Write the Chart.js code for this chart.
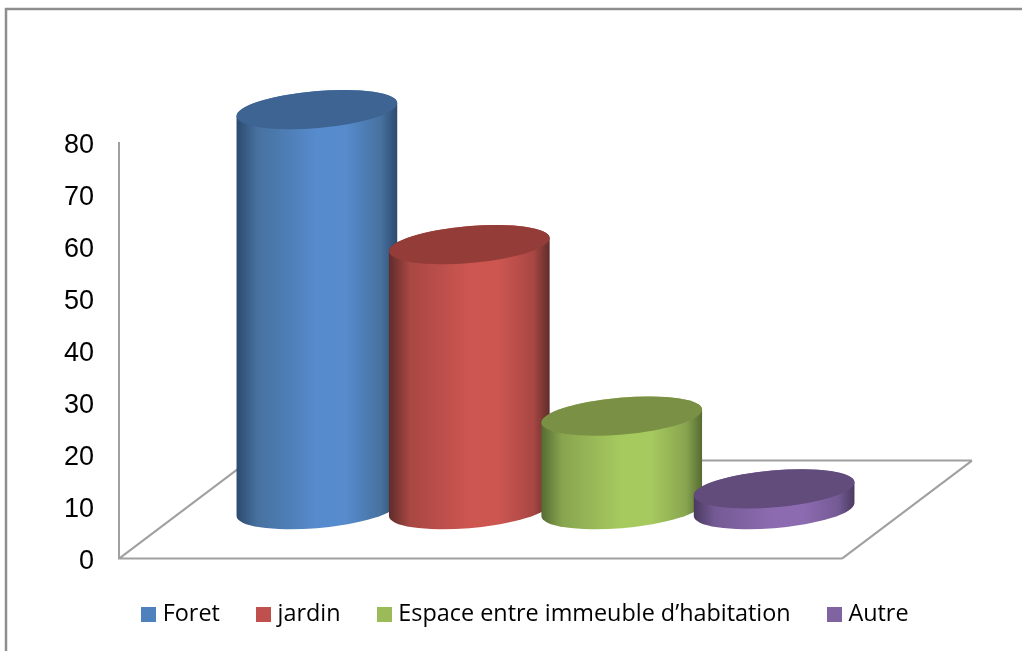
<!DOCTYPE html>
<html>
<head>
<meta charset="utf-8">
<title>Chart</title>
<script src="https://cdn.jsdelivr.net/npm/chart.js@4"></script>
<style>
  html, body { margin: 0; padding: 0; background: #fff; overflow: hidden; }
  canvas { display: block; }
</style>
</head>
<body>
<canvas id="chart" width="1022" height="651"></canvas>
<script>
// Data
const categories = ["Foret", "jardin", "Espace entre immeuble d\u2019habitation", "Autre"];
const values = [77, 51, 18, 4];
const yMin = 0;
const yMax = 80;
const yStep = 10;

// Colours of each cylinder
const legendColors = ["#4F81BD", "#C0504D", "#9BBB59", "#8064A2"];
const topColors = ["#3D6493", "#943C38", "#7A9145", "#614C7C"];
const darkColors = ["#2C4A6E", "#5F2C2A", "#566B33", "#4A3A5F"];
const midColors = ["#47719F", "#A84743", "#88A54F", "#745A95"];
const peakColors = ["#568BCD", "#CD5651", "#A7CA5F", "#8D6BB0"];

const lineColor = "#A0A0A0";

// Look of the 3D floor and cylinders
const floorDepthX = 130;
const floorDepthY = 98;
const barLift = 49;        // cylinders stand in the middle of the floor
const radiusRatio = 0.529; // cylinder radius compared to the bar slot
const ellipseB = 18.5;
const tilt = -4.9 * Math.PI / 180;

// Legend square, as an image so it sits close to the text like the original
function legendSquare(color) {
  let c = document.createElement("canvas");
  c.width = 15;
  c.height = 15;
  let g = c.getContext("2d");
  g.fillStyle = color;
  g.fillRect(0, 0, 15, 15);
  return c;
}

function drawFloor(chart) {
  let ctx = chart.ctx;
  let area = chart.chartArea;
  let frontRight = area.right - floorDepthX;
  let backLeft = area.left + floorDepthX;
  let backY = area.bottom - floorDepthY;

  ctx.save();
  ctx.strokeStyle = lineColor;
  ctx.lineWidth = 2;
  ctx.beginPath();
  ctx.moveTo(area.left - 1, area.bottom);
  ctx.lineTo(frontRight, area.bottom);
  ctx.moveTo(backLeft, backY);
  ctx.lineTo(area.right, backY);
  ctx.moveTo(area.left, area.bottom);
  ctx.lineTo(backLeft, backY);
  ctx.moveTo(frontRight, area.bottom);
  ctx.lineTo(area.right, backY);
  ctx.stroke();
  ctx.restore();
}

function drawCylinder(ctx, bar, i) {
  let a = bar.width * radiusRatio;
  let b = ellipseB;
  let cx = bar.x;
  let topY = bar.y - barLift;
  let baseY = bar.base - barLift;
  // angle of the left and right extreme points of the tilted ellipse
  let t0 = Math.atan(-(b / a) * Math.tan(tilt));
  let extent = Math.sqrt(a * a * Math.cos(tilt) ** 2 + b * b * Math.sin(tilt) ** 2);

  let grad = ctx.createLinearGradient(cx - extent, 0, cx + extent, 0);
  grad.addColorStop(0, darkColors[i]);
  grad.addColorStop(0.13, midColors[i]);
  grad.addColorStop(0.5, peakColors[i]);
  grad.addColorStop(0.68, peakColors[i]);
  grad.addColorStop(0.9, midColors[i]);
  grad.addColorStop(1, darkColors[i]);

  ctx.beginPath();
  ctx.ellipse(cx, baseY, a, b, tilt, t0, t0 + Math.PI);
  ctx.ellipse(cx, topY, a, b, tilt, t0 + Math.PI, t0 + 2 * Math.PI);
  ctx.closePath();
  ctx.fillStyle = grad;
  ctx.fill();

  ctx.beginPath();
  ctx.ellipse(cx, topY, a, b, tilt, 0, 2 * Math.PI);
  ctx.fillStyle = topColors[i];
  ctx.fill();
}

// Frame around the picture, cut by the right and bottom edges
const framePlugin = {
  id: "frame",
  beforeDraw(chart) {
    let ctx = chart.ctx;
    ctx.save();
    ctx.fillStyle = "#fff";
    ctx.fillRect(0, 0, chart.width, chart.height);
    ctx.strokeStyle = "#8E8E8E";
    ctx.lineWidth = 2.5;
    ctx.beginPath();
    ctx.moveTo(6, chart.height + 2);
    ctx.lineTo(6, 9);
    ctx.lineTo(chart.width + 2, 9);
    ctx.stroke();
    ctx.restore();
  }
};

// Replace the flat bars by cylinders, using the geometry of the bar elements
const cylinderPlugin = {
  id: "cylinders",
  afterLayout(chart) {
    // legend is not centred under the plot in the original
    chart.legend.left = 105;
    chart.legend.top = 562;
  },
  beforeDatasetsDraw(chart) {
    drawFloor(chart);
    chart.data.datasets.forEach((ds, i) => {
      drawCylinder(chart.ctx, chart.getDatasetMeta(i).data[0], i);
    });
    return false;
  }
};

new Chart(document.getElementById("chart"), {
  type: "bar",
  data: {
    labels: [""],
    datasets: categories.map((name, i) => ({
      label: name,
      data: [values[i]],
      backgroundColor: legendColors[i]
    }))
  },
  options: {
    responsive: false,
    animation: false,
    layout: { padding: { left: 50, right: 50, top: 143, bottom: 18 } },
    datasets: { bar: { barPercentage: 1, categoryPercentage: 0.7147 } },
    scales: {
      x: { display: false },
      y: {
        min: yMin,
        max: yMax,
        afterFit: scale => { scale.width = 69; },
        grid: { display: false, drawTicks: false },
        border: { display: true, color: lineColor, width: 2 },
        ticks: {
          stepSize: yStep,
          color: "#000",
          padding: 25,
          labelOffset: 2.5,
          font: { family: "'Liberation Sans', Arial, sans-serif", size: 27 }
        }
      }
    },
    plugins: {
      tooltip: { enabled: false },
      legend: {
        position: "bottom",
        align: "start",
        labels: {
          color: "#000",
          padding: 41,
          boxWidth: 5,
          boxHeight: 15,
          usePointStyle: true,
          font: { family: "'Open Sans', sans-serif", size: 23.4 },
          generateLabels: chart => chart.data.datasets.map((ds, i) => ({
            text: ds.label,
            datasetIndex: i,
            fillStyle: ds.backgroundColor,
            strokeStyle: ds.backgroundColor,
            lineWidth: 0,
            pointStyle: legendSquare(ds.backgroundColor)
          }))
        }
      }
    }
  },
  plugins: [framePlugin, cylinderPlugin]
});
</script>
</body>
</html>
